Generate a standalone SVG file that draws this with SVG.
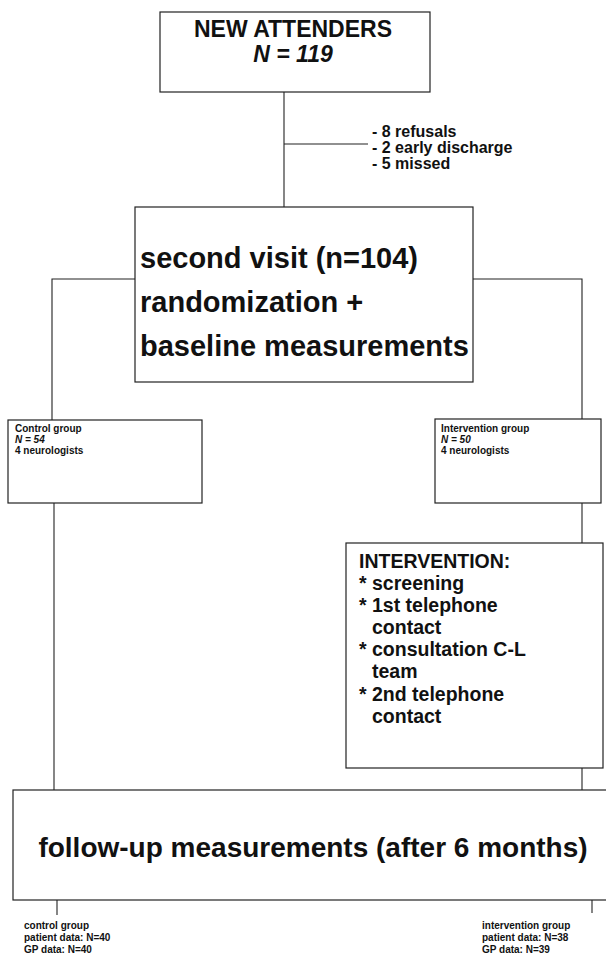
<svg xmlns="http://www.w3.org/2000/svg" width="606" height="966" viewBox="0 0 606 966">
  <style>
    .box { fill: #fff; stroke: #222; stroke-width: 1.2; }
    .wire { fill: none; stroke: #222; stroke-width: 1.1; }
    text { font-family: "Liberation Sans", Arial, Helvetica, sans-serif; font-weight: bold; fill: #111; }
    .big { font-size: 29px; }
    .mid { font-size: 23px; }
    .note { font-size: 16px; }
    .iv { font-size: 19.5px; }
    .small { font-size: 10px; }
    .tiny { font-size: 10px; }
    .it { font-style: italic; }
  </style>

  <rect width="606" height="966" fill="#fff"/>

  <!-- connectors -->
  <g id="connectors">
    <path class="wire" d="M284 92 V207"/>
    <path class="wire" d="M284 144 H368"/>
    <path class="wire" d="M135 279 H52 V420"/>
    <path class="wire" d="M473 279 H582 V419"/>
    <path class="wire" d="M582 503 V543"/>
    <path class="wire" d="M54 503 V790"/>
    <path class="wire" d="M582 768 V790"/>
    <path class="wire" d="M57 900 V915"/>
    <path class="wire" d="M592 900 V913"/>
  </g>

  <!-- enrolment -->
  <g id="new-attenders">
    <rect class="box" x="160" y="12" width="270" height="80"/>
    <text class="mid" x="293" y="37" text-anchor="middle">NEW ATTENDERS</text>
    <text class="mid it" x="293" y="62" text-anchor="middle">N = 119</text>
  </g>

  <g id="exclusions">
    <text class="note" x="372" y="137">- 8 refusals</text>
    <text class="note" x="372" y="153">- 2 early discharge</text>
    <text class="note" x="372" y="169">- 5 missed</text>
  </g>

  <g id="second-visit">
    <rect class="box" x="135" y="207" width="338" height="175"/>
    <text class="big" x="140" y="268">second visit (n=104)</text>
    <text class="big" x="140" y="312">randomization +</text>
    <text class="big" x="140" y="356">baseline measurements</text>
  </g>

  <!-- allocation -->
  <g id="control-group">
    <rect class="box" x="8" y="420" width="194" height="83"/>
    <text class="small" x="15" y="432">Control group</text>
    <text class="small it" x="15" y="443">N = 54</text>
    <text class="small" x="15" y="454">4 neurologists</text>
  </g>

  <g id="intervention-group">
    <rect class="box" x="435" y="419" width="166" height="84"/>
    <text class="small" x="441" y="432">Intervention group</text>
    <text class="small it" x="441" y="443">N = 50</text>
    <text class="small" x="441" y="454">4 neurologists</text>
  </g>

  <g id="intervention">
    <rect class="box" x="346" y="543" width="257" height="225"/>
    <text class="iv" x="359" y="568">INTERVENTION:</text>
    <text class="iv" x="359" y="590">* screening</text>
    <text class="iv" x="359" y="612">* 1st telephone</text>
    <text class="iv" x="372" y="634">contact</text>
    <text class="iv" x="359" y="656">* consultation C-L</text>
    <text class="iv" x="372" y="678">team</text>
    <text class="iv" x="359" y="701">* 2nd telephone</text>
    <text class="iv" x="372" y="723">contact</text>
  </g>

  <!-- follow-up -->
  <g id="follow-up">
    <rect class="box" x="13" y="790" width="600" height="110"/>
    <text class="big" x="313" y="857" text-anchor="middle" style="font-size:28px">follow-up measurements (after 6 months)</text>
  </g>

  <g id="control-outcome">
    <text class="tiny" x="24" y="929">control group</text>
    <text class="tiny" x="24" y="941">patient data: N=40</text>
    <text class="tiny" x="24" y="953">GP data: N=40</text>
  </g>

  <g id="intervention-outcome">
    <text class="tiny" x="482" y="929">intervention group</text>
    <text class="tiny" x="482" y="941">patient data: N=38</text>
    <text class="tiny" x="482" y="953">GP data: N=39</text>
  </g>
</svg>
